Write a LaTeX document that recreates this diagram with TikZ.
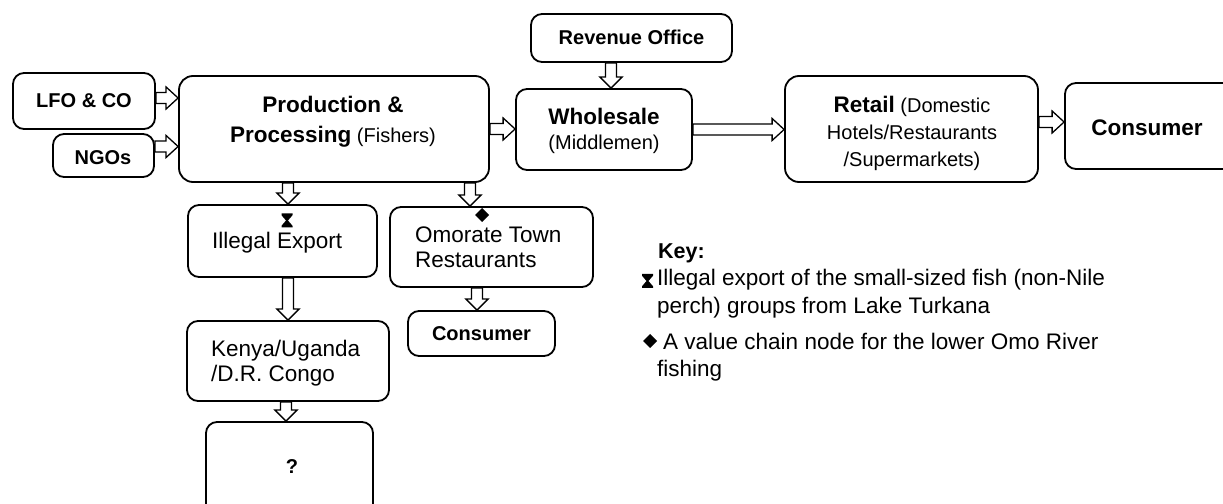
\documentclass[tikz,border=0pt]{standalone}
\usepackage{fontspec}
\setmainfont{Liberation Sans}
\usetikzlibrary{calc}
\pgfdeclarelayer{bg}
\pgfsetlayers{bg,main}
\newcommand{\szA}{\fontsize{22.5bp}{27bp}\selectfont}
\newcommand{\szB}{\fontsize{20bp}{24bp}\selectfont}
\tikzset{
  box/.style={draw=black, line width=1.8bp, rounded corners=11bp, inner sep=0pt},
  txt/.style={inner sep=0pt, anchor=base},
  ltxt/.style={inner sep=0pt, anchor=base west},
  blk/.style={draw=black, line width=1.3bp, fill=white, line join=miter},
  harrow/.style={blk, to path={let \p1=(\tikztostart), \p2=(\tikztotarget) in
     ({\x1},{\y1+5.5bp}) -- ({\x2-12bp},{\y1+5.5bp}) -- ({\x2-12bp},{\y1+11bp}) -- ({\x2},{\y1})
     -- ({\x2-12bp},{\y1-11bp}) -- ({\x2-12bp},{\y1-5.5bp}) -- ({\x1},{\y1-5.5bp}) -- cycle}},
  varrow/.style={blk, to path={let \p1=(\tikztostart), \p2=(\tikztotarget) in
     ({\x1-5.5bp},{\y1}) -- ({\x1-5.5bp},{\y2+11bp}) -- ({\x1-11bp},{\y2+11bp}) -- ({\x1},{\y2})
     -- ({\x1+11bp},{\y2+11bp}) -- ({\x1+5.5bp},{\y2+11bp}) -- ({\x1+5.5bp},{\y1}) -- cycle}},
  hglass/.pic={\fill[black] (-5.5,-7) -- (5.5,-7) -- (5.5,-5.3) -- (1,0) -- (5.5,5.3) -- (5.5,7)
     -- (-5.5,7) -- (-5.5,5.3) -- (-1,0) -- (-5.5,-5.3) -- cycle;},
  dmnd/.pic={\fill[black] (0,-7) -- (7,0) -- (0,7) -- (-7,0) -- cycle;}
}
\begin{document}
\begin{tikzpicture}[x=1bp,y=-1bp]
\useasboundingbox (0,0) rectangle (1223,504);
\clip (0,0) rectangle (1223,504);

% boxes
\node[box, minimum width=142bp, minimum height=56bp] (lfo) at (84,101) {};
\node[box, minimum width=101bp, minimum height=43bp] (ngo) at (103.5,155.5) {};
\node[box, minimum width=310bp, minimum height=106bp, rounded corners=14bp] (prod) at (334,129) {};
\node[box, minimum width=201bp, minimum height=48bp] (rev) at (631.5,38) {};
\node[box, minimum width=176bp, minimum height=81bp] (whole) at (604,129.5) {};
\node[box, minimum width=253bp, minimum height=106bp, rounded corners=14bp] (retail) at (911.5,129) {};
\node[box, minimum width=175bp, minimum height=86bp] (cons) at (1152.5,126) {};
\node[box, minimum width=189bp, minimum height=72bp] (ill) at (282.5,241) {};
\node[box, minimum width=202bp, minimum height=80bp] (kenya) at (288,361) {};
\node[box, minimum width=167bp, minimum height=108bp] (q) at (289.5,476) {};
\node[box, minimum width=203bp, minimum height=80bp] (omo) at (491.5,247) {};
\node[box, minimum width=147bp, minimum height=45bp] (cons2) at (481.5,333.5) {};

\coordinate (omoin) at ([xshift=-21.5bp]omo.north);
\coordinate (c2in) at ([xshift=-4.5bp]cons2.north);
\coordinate (wholein) at ([xshift=7bp]whole.north);

% arrows
\begin{pgfonlayer}{bg}
\draw[harrow] ([yshift=3bp]lfo.east) to (prod.west);
\draw[harrow] ([yshift=9bp]ngo.east) to (prod.west);
\draw[harrow] (prod.east) to (whole.west);
\draw[harrow] (whole.east) to (retail.west);
\draw[harrow] ([yshift=7bp]retail.east) to (cons.west);
\draw[varrow] (rev.south -| wholein) to (wholein);
\draw[varrow] (prod.south -| kenya.north) to (ill.north);
\draw[varrow] (prod.south -| omoin) to (omoin);
\draw[varrow] (ill.south -| kenya.north) to (kenya.north);
\draw[varrow] ([xshift=-2bp]kenya.south) to (q.north);
\draw[varrow] (omo.south -| c2in) to (c2in);
\end{pgfonlayer}

% texts
\node[txt] (tlfo) at (84,108) {\szB\bfseries LFO \& CO};
\node[txt] (tngo) at (103,165) {\szB\bfseries NGOs};
\node[txt] (tprod1) at (333,113) {\szA\bfseries Production \&};
\node[txt] (tprod2) at (333,143) {\szA\bfseries Processing\mdseries\szB{} (Fishers)};
\node[txt] (trev) at (631.5,45) {\szB\bfseries Revenue Office};
\node[txt] (twh1) at (604,125) {\szA\bfseries Wholesale};
\node[txt] (twh2) at (604,150) {\szB (Middlemen)};
\node[txt] (tret1) at (912,113) {\szA\bfseries Retail\mdseries\szB{} (Domestic};
\node[txt] (tret2) at (912,140) {\szB Hotels/Restaurants};
\node[txt] (tret3) at (912,167) {\szB /Supermarkets)};
\node[txt] (tcons) at (1147,136) {\szA\bfseries Consumer};
\node[ltxt] (till) at (212,249) {\szA Illegal Export};
\node[ltxt] (tomo1) at (415,243) {\szA Omorate Town};
\node[ltxt] (tomo2) at (415,268) {\szA Restaurants};
\node[ltxt] (tken1) at (211,357) {\szA Kenya/Uganda};
\node[ltxt] (tken2) at (211,382) {\szA /D.R. Congo};
\node[txt] (tcons2) at (481.5,341) {\szB\bfseries Consumer};
\node[txt] (tq) at (292,473) {\szB\bfseries ?};

% symbols
\pic at (287,220.5) {hglass};
\pic at (482,215) {dmnd};

% key
\node[ltxt] (key) at (658,259) {\fontsize{21.5bp}{26bp}\selectfont\bfseries Key:};
\pic at (647.5,281) {hglass};
\node[ltxt] (k1) at (657,286) {\szA Illegal export of the small-sized fish (non-Nile};
\node[ltxt] (k2) at (657,314) {\szA perch) groups from Lake Turkana};
\pic at (650,341) {dmnd};
\node[ltxt] (k3) at (663,350) {\szA A value chain node for the lower Omo River};
\node[ltxt] (k4) at (657,377) {\szA fishing};
\end{tikzpicture}
\end{document}
